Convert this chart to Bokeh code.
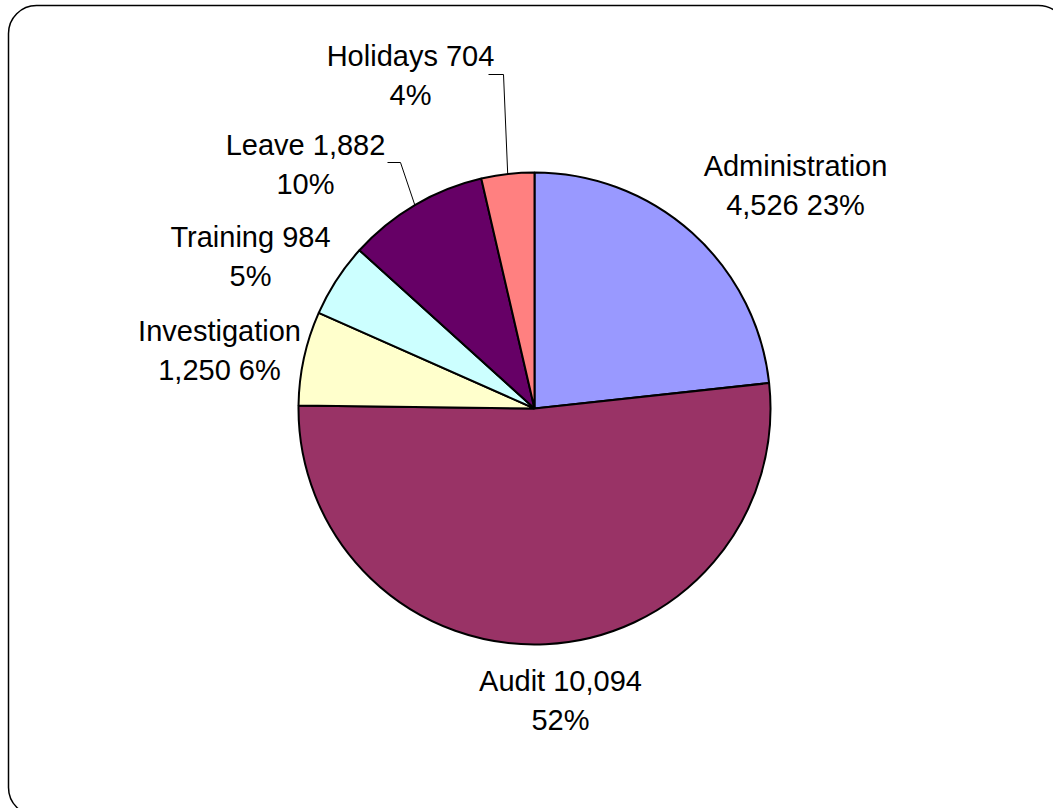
import math
from bokeh.plotting import figure
from bokeh.models import Range1d, BoxAnnotation, ColumnDataSource
from bokeh.core.properties import value
from bokeh.embed import file_html
from bokeh.resources import INLINE

# ---- data ----
categories = ["Administration", "Audit", "Investigation", "Training", "Leave", "Holidays"]
hours = [4526, 10094, 1250, 984, 1882, 704]
colors = ["#9999FF", "#993366", "#FFFFCC", "#CCFFFF", "#660066", "#FF8080"]
label_formats = ["{c}\n{v} {p}%", "{c} {v}\n{p}%", "{c}\n{v} {p}%", "{c} {v}\n{p}%", "{c} {v}\n{p}%", "{c} {v}\n{p}%"]

# ---- layout (pixel space, y downward) ----
W, H = 1053, 808
CX, CY, R = 534, 408, 236
label_pos = [(795, 185), (560, 700), (219, 350), (250, 256), (305, 164), (410, 75)]
leader_elbow = {4: [(387, 162), (400, 162)], 5: [(488, 74), (503, 74)]}

def fy(py):
    return H - py

p = figure(width=W, height=H, output_backend="svg", toolbar_location=None,
           x_axis_type=None, y_axis_type=None, min_border=0,
           x_range=Range1d(0, W), y_range=Range1d(0, H))
p.outline_line_color = None
p.grid.visible = False
p.background_fill_color = "white"

frame = BoxAnnotation(left=8, right=1066, top=fy(5), bottom=fy(815),
                      fill_color=None, fill_alpha=0, line_color="black",
                      line_alpha=1.0, line_width=1.5, border_radius=28)
p.add_layout(frame)

total = sum(hours)
starts, ends, mids = [], [], []
cum = 0.0
for v in hours:
    a0 = math.pi / 2 - 2 * math.pi * cum / total
    cum += v
    a1 = math.pi / 2 - 2 * math.pi * cum / total
    starts.append(a0)
    ends.append(a1)
    mids.append((a0 + a1) / 2)

src = ColumnDataSource(dict(start=starts, end=ends, color=colors))
p.wedge(x=CX, y=fy(CY), radius=R, start_angle="start", end_angle="end",
        direction="clock", fill_color="color", line_color="black",
        line_width=2, source=src)

# leader lines
for i, pts in leader_elbow.items():
    ex = CX + R * math.cos(mids[i])
    ey = fy(CY) + R * math.sin(mids[i])
    xs = [pts[0][0], pts[1][0], ex]
    ys = [fy(pts[0][1]), fy(pts[1][1]), ey]
    p.line(xs, ys, line_color="black", line_width=1)

texts = []
for c, v, fmt in zip(categories, hours, label_formats):
    pct = round(100 * v / total)
    texts.append(fmt.format(c=c, v=f"{v:,}", p=pct))

lsrc = ColumnDataSource(dict(x=[q[0] for q in label_pos], y=[fy(q[1]) for q in label_pos], t=texts))
p.text(x="x", y="y", text="t", source=lsrc, text_font=value("Liberation Sans"),
       text_font_size="29px", text_align="center", text_baseline="middle",
       text_line_height=1.22, text_color="black")

open("out.html", "w").write(file_html(p, INLINE))
